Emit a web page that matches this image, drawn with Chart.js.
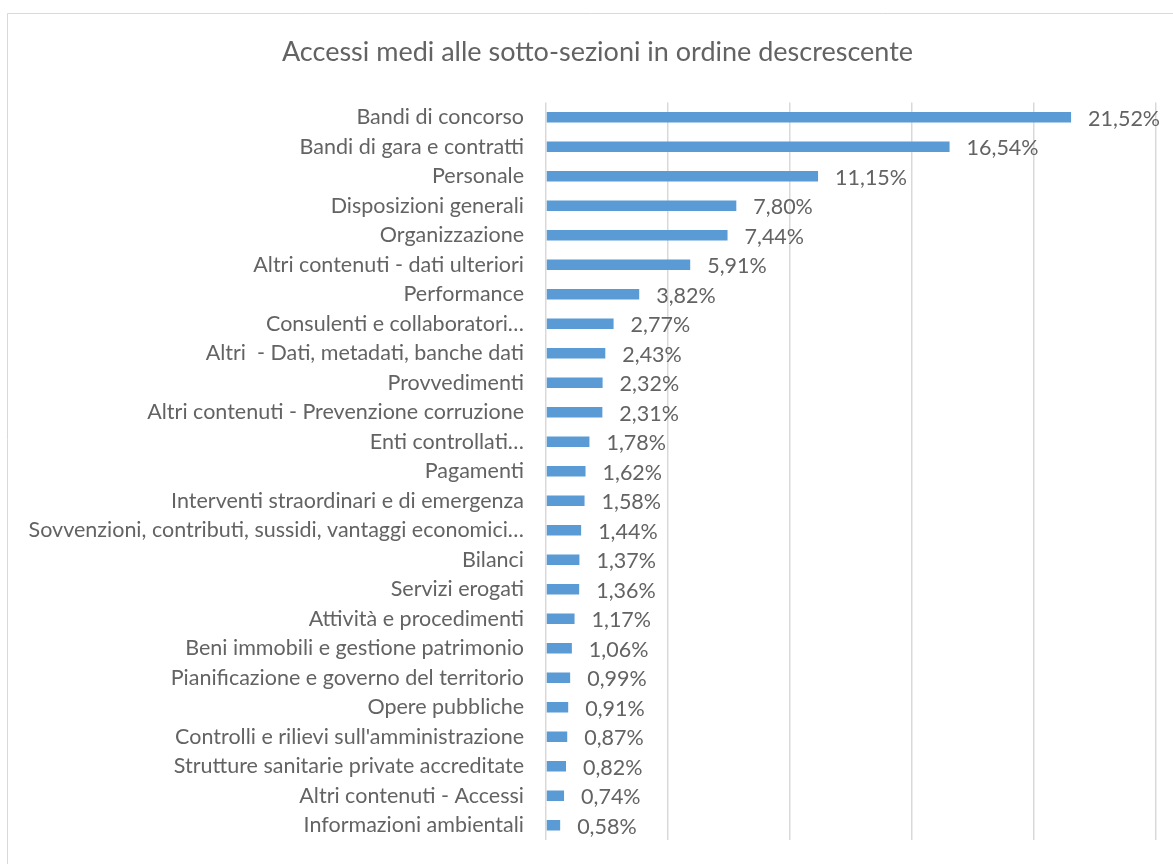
<!DOCTYPE html>
<html>
<head>
<meta charset="utf-8">
<script src="https://cdn.jsdelivr.net/npm/chart.js@4"></script>
<style>
  html, body { margin: 0; padding: 0; background: #ffffff; }
  #wrap { width: 1173px; height: 864px; position: relative; }
</style>
</head>
<body>
<div id="wrap"><canvas id="c" width="1173" height="864"></canvas></div>
<script>
const titleText = "Accessi medi alle sotto-sezioni in ordine descrescente";
const categories = [
  "Bandi di concorso",
  "Bandi di gara e contratti",
  "Personale",
  "Disposizioni generali",
  "Organizzazione",
  "Altri contenuti - dati ulteriori",
  "Performance",
  "Consulenti e collaboratori…",
  "Altri  - Dati, metadati, banche dati",
  "Provvedimenti",
  "Altri contenuti - Prevenzione corruzione",
  "Enti controllati…",
  "Pagamenti",
  "Interventi straordinari e di emergenza",
  "Sovvenzioni, contributi, sussidi, vantaggi economici…",
  "Bilanci",
  "Servizi erogati",
  "Attività e procedimenti",
  "Beni immobili e gestione patrimonio",
  "Pianificazione e governo del territorio",
  "Opere pubbliche",
  "Controlli e rilievi sull'amministrazione",
  "Strutture sanitarie private accreditate",
  "Altri contenuti - Accessi",
  "Informazioni ambientali"
];
const values = [21.52, 16.54, 11.15, 7.80, 7.44, 5.91, 3.82, 2.77, 2.43, 2.32, 2.31, 1.78, 1.62, 1.58, 1.44, 1.37, 1.36, 1.17, 1.06, 0.99, 0.91, 0.87, 0.82, 0.74, 0.58];
const axisMin = 0, axisMax = 25, axisStep = 5;

const FONT = "Lato, 'Open Sans', sans-serif";
const TEXT = "#636363";

const frame = {
  id: 'frame',
  beforeDraw(chart) {
    const ctx = chart.ctx;
    ctx.save();
    ctx.fillStyle = '#ffffff';
    ctx.fillRect(0, 0, chart.width, chart.height);
    ctx.strokeStyle = '#d9d9d9';
    ctx.lineWidth = 1;
    ctx.beginPath();
    ctx.moveTo(7.5, 880);
    ctx.lineTo(7.5, 13.5);
    ctx.lineTo(1180, 13.5);
    ctx.stroke();
    ctx.restore();
  },
  afterDraw(chart) {
    const ctx = chart.ctx;
    ctx.save();
    ctx.font = "27px " + FONT;
    ctx.fillStyle = TEXT;
    ctx.textAlign = 'center';
    ctx.textBaseline = 'middle';
    ctx.fillText(titleText, 597.5, 52);
    ctx.restore();
  }
};

const valueLabels = {
  id: 'valueLabels',
  afterDatasetsDraw(chart) {
    const ctx = chart.ctx;
    const meta = chart.getDatasetMeta(0);
    ctx.save();
    ctx.font = "21.5px " + FONT;
    ctx.fillStyle = TEXT;
    ctx.textAlign = 'left';
    ctx.textBaseline = 'middle';
    meta.data.forEach((bar, i) => {
      const txt = values[i].toFixed(2).replace('.', ',') + '%';
      ctx.fillText(txt, bar.x + 17, bar.y + 1.5);
    });
    ctx.restore();
  }
};

new Chart(document.getElementById('c'), {
  type: 'bar',
  data: {
    labels: categories,
    datasets: [{
      data: values,
      backgroundColor: '#5b9bd5',
      borderWidth: 0,
      categoryPercentage: 1.0,
      barPercentage: 0.36
    }]
  },
  plugins: [frame, valueLabels],
  options: {
    indexAxis: 'y',
    responsive: false,
    animation: false,
    devicePixelRatio: 1,
    layout: { padding: { left: 10, right: 17, top: 102.5, bottom: 24 } },
    plugins: {
      legend: { display: false },
      tooltip: { enabled: false },
      title: { display: false }
    },
    scales: {
      x: {
        min: axisMin, max: axisMax,
        afterFit(scale) { scale.height = 0; scale.paddingLeft = 0; scale.paddingRight = 0; },
        ticks: { display: false, stepSize: axisStep },
        grid: { color: '#d9d9d9', lineWidth: 1.5, drawTicks: false },
        border: { display: false }
      },
      y: {
        afterFit(scale) { scale.width = 536; scale.paddingTop = 0; scale.paddingBottom = 0; },
        ticks: { color: TEXT, font: { family: FONT, size: 21.5 }, padding: 22, autoSkip: false },
        grid: { display: false, drawTicks: false },
        border: { display: false }
      }
    }
  }
});
</script>
</body>
</html>
